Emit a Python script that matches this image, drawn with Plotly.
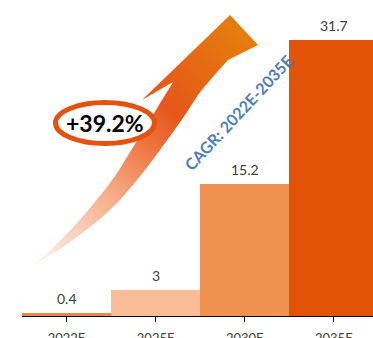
import base64
import plotly.graph_objects as go

# Market size by year (estimates)
years = ["2022E", "2025E", "2030E", "2035E"]
values = [0.4, 3, 15.2, 31.7]
bar_colors = ["#EE8545", "#FBBC98", "#F0924F", "#E35306"]
cagr_label = "+39.2%"
cagr_title = "CAGR: 2022E-2035E"

W, H = 373, 338
ML, MR, MT, MB = 22, 0, 0, 22
PW, PH = W - ML - MR, H - MT - MB


def px_x(x):
    return (x - ML) / PW


def px_y(y):
    return (H - MB - y) / PH


def spline(points):
    """Catmull-Rom through points, returned as SVG cubic segments."""
    d = ""
    n = len(points)
    for i in range(n - 1):
        p0 = points[max(i - 1, 0)]
        p1 = points[i]
        p2 = points[i + 1]
        p3 = points[min(i + 2, n - 1)]
        c1 = (p1[0] + (p2[0] - p0[0]) / 6, p1[1] + (p2[1] - p0[1]) / 6)
        c2 = (p2[0] - (p3[0] - p1[0]) / 6, p2[1] - (p3[1] - p1[1]) / 6)
        d += f" C{c1[0]:.1f},{c1[1]:.1f} {c2[0]:.1f},{c2[1]:.1f} {p2[0]:.1f},{p2[1]:.1f}"
    return d


# Growth arrow outline (page pixels)
left_edge = [(25, 270), (43, 257), (77, 223), (110, 183), (127, 157),
             (141, 134), (156, 110), (173, 82)]
right_edge = [(228, 60), (212, 78), (198, 95), (185, 115), (160, 150),
              (137, 180), (110, 210), (77, 237), (43, 260), (25, 270)]
path = f"M{left_edge[0][0]},{left_edge[0][1]}" + spline(left_edge)
path += " L142,100 L230,15 L258,45 L228,60"
path += spline(right_edge) + " Z"

svg = f"""<svg xmlns="http://www.w3.org/2000/svg" width="{W}" height="{H}" viewBox="0 0 {W} {H}" preserveAspectRatio="none">
<defs><linearGradient id="g" gradientUnits="userSpaceOnUse" x1="25" y1="270" x2="240" y2="35">
<stop offset="0" stop-color="#FFFFFF" stop-opacity="0.6"/>
<stop offset="0.12" stop-color="#FBE0D3"/>
<stop offset="0.35" stop-color="#F6AE8A"/>
<stop offset="0.55" stop-color="#EE7440"/>
<stop offset="0.68" stop-color="#E7561A"/>
<stop offset="0.85" stop-color="#E56A12"/>
<stop offset="1" stop-color="#E57C0C"/>
</linearGradient></defs>
<path d="{path}" fill="url(#g)"/>
</svg>"""
svg_uri = "data:image/svg+xml;base64," + base64.b64encode(svg.encode()).decode()

fig = go.Figure()
fig.add_trace(go.Bar(
    x=list(range(len(years))), y=values,
    marker=dict(color=bar_colors, line=dict(width=0)),
    hoverinfo="skip",
))

fig.add_layout_image(dict(
    source=svg_uri, xref="paper", yref="paper",
    x=-ML / PW, y=1 + MT / PH, sizex=W / PW, sizey=H / PH,
    xanchor="left", yanchor="top", sizing="stretch", layer="above",
))

# Ellipse around the growth rate
cx, cy, rx, ry = 105, 123, 49.5, 20.5
fig.add_shape(type="circle", xref="paper", yref="paper",
              x0=px_x(cx - rx), x1=px_x(cx + rx),
              y0=px_y(cy + ry), y1=px_y(cy - ry),
              line=dict(color="#E4520E", width=5), fillcolor="white",
              layer="above")

annotations = []
for i, v in enumerate(values):
    annotations.append(dict(
        x=i, y=v, xref="x", yref="y", text=f"{v:g}", showarrow=False,
        yanchor="bottom", yshift=4,
        font=dict(family="Lato, sans-serif", size=14, color="#404040"),
    ))
annotations.append(dict(
    x=px_x(cx), y=px_y(cy), xref="paper", yref="paper", text=f"<b>{cagr_label}</b>",
    showarrow=False, xanchor="center", yanchor="middle",
    font=dict(family="Lato, sans-serif", size=23, color="#000000"),
))
annotations.append(dict(
    x=px_x(238), y=px_y(112), xref="paper", yref="paper", text=f"<b>{cagr_title}</b>",
    showarrow=False, xanchor="center", yanchor="middle", textangle=-47,
    font=dict(family="Lato, sans-serif", size=16, color="#4A7EBB"),
))

fig.update_layout(
    width=W, height=H,
    margin=dict(l=ML, r=MR, t=MT, b=MB, pad=0, autoexpand=False),
    paper_bgcolor="white", plot_bgcolor="white",
    bargap=0, showlegend=False,
    annotations=annotations,
    xaxis=dict(
        range=[-0.5, 3.44], tickmode="array",
        tickvals=list(range(len(years))), ticktext=years,
        tickson="boundaries", ticks="outside", ticklen=5, tickwidth=1,
        tickcolor="#000000", showline=True, linecolor="#000000", linewidth=1,
        showgrid=False, zeroline=False, fixedrange=True, ticklabelstandoff=5,
        automargin=False,
        tickfont=dict(family="Lato, sans-serif", size=13, color="#404040"),
    ),
    yaxis=dict(range=[0, 36.3], visible=False, showgrid=False, zeroline=False,
               fixedrange=True, automargin=False),
)

fig.write_html("out.html", config={"displayModeBar": False})
